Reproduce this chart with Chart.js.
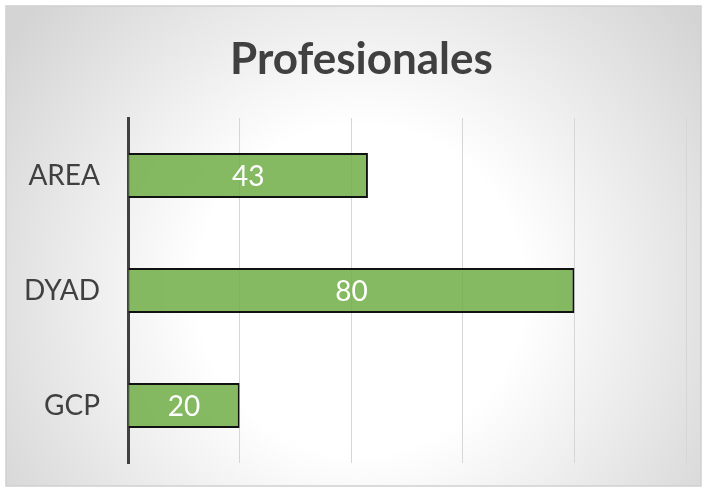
<!DOCTYPE html>
<html>
<head>
<meta charset="utf-8">
<script src="https://cdn.jsdelivr.net/npm/chart.js@4"></script>
<style>
  html, body { margin: 0; padding: 0; background: #ffffff; }
  #wrap { width: 707px; height: 492px; position: relative; }
</style>
</head>
<body>
<div id="wrap"><canvas id="chart" width="707" height="492"></canvas></div>
<script>
// Professionals per group
const categories = ['AREA', 'DYAD', 'GCP'];
const profesionales = [43, 80, 20];
const xTicks = [0, 20, 40, 60, 80, 100];
const chartTitle = 'Profesionales';

const FONT = 'Lato, "Open Sans", sans-serif';

// Radial grey-to-white backdrop with a thin frame
const backdrop = {
  id: 'backdrop',
  beforeDraw(chart) {
    const ctx = chart.ctx;
    const w = chart.width, h = chart.height;
    ctx.save();
    const g = ctx.createRadialGradient(360, 290, 0, 360, 290, 430);
    g.addColorStop(0, '#ffffff');
    g.addColorStop(0.38, '#ffffff');
    g.addColorStop(1, '#d4d4d4');
    ctx.fillStyle = '#ffffff';
    ctx.fillRect(0, 0, w, h);
    ctx.fillStyle = g;
    ctx.fillRect(6, 6, w - 12, h - 12);
    ctx.strokeStyle = '#d0d0d0';
    ctx.lineWidth = 1.5;
    ctx.strokeRect(6, 6, w - 12, h - 12);
    ctx.restore();
  }
};

// Heading centred on the framed panel
const heading = {
  id: 'heading',
  afterDraw(chart) {
    const ctx = chart.ctx;
    ctx.save();
    ctx.font = 'bold 44px ' + FONT;
    ctx.fillStyle = '#404040';
    ctx.textAlign = 'center';
    ctx.textBaseline = 'middle';
    ctx.fillText(chartTitle, 361.5, 59.5);
    ctx.restore();
  }
};

// White value labels centred in each bar
const barLabels = {
  id: 'barLabels',
  afterDatasetsDraw(chart) {
    const ctx = chart.ctx;
    const meta = chart.getDatasetMeta(0);
    ctx.save();
    ctx.font = '28px ' + FONT;
    ctx.fillStyle = '#ffffff';
    ctx.textAlign = 'center';
    ctx.textBaseline = 'middle';
    meta.data.forEach((bar, i) => {
      const x = (bar.base + bar.x) / 2;
      ctx.fillText(String(profesionales[i]), x, bar.y + 1);
    });
    ctx.restore();
  }
};

new Chart(document.getElementById('chart'), {
  type: 'bar',
  data: {
    labels: categories,
    datasets: [{
      label: chartTitle,
      data: profesionales,
      backgroundColor: 'rgba(112, 173, 71, 0.85)',
      borderColor: '#111111',
      borderWidth: 2,
      borderSkipped: 'left',
      categoryPercentage: 0.78,
      barPercentage: 0.5
    }]
  },
  options: {
    indexAxis: 'y',
    responsive: false,
    animation: false,
    layout: { padding: { top: 118, right: 21, bottom: 29, left: 0 } },
    plugins: {
      legend: { display: false },
      tooltip: { enabled: false },
      title: { display: false }
    },
    scales: {
      x: {
        min: 0,
        max: 100,
        afterBuildTicks(scale) { scale.ticks = xTicks.map(v => ({ value: v })); },
        ticks: { display: false },
        grid: { color: '#d6d6d6', lineWidth: 1, drawTicks: false },
        border: { display: false }
      },
      y: {
        afterFit(scale) {
          // fixed label column; labels need no extra vertical inset
          scale.width = 128;
          scale.paddingTop = 0;
          scale.paddingBottom = 0;
        },
        ticks: {
          color: '#404040',
          font: { family: FONT, size: 28 },
          padding: 28
        },
        grid: { display: false, drawTicks: false },
        border: { display: true, color: '#404040', width: 3 }
      }
    }
  },
  plugins: [backdrop, heading, barLabels]
});
</script>
</body>
</html>
